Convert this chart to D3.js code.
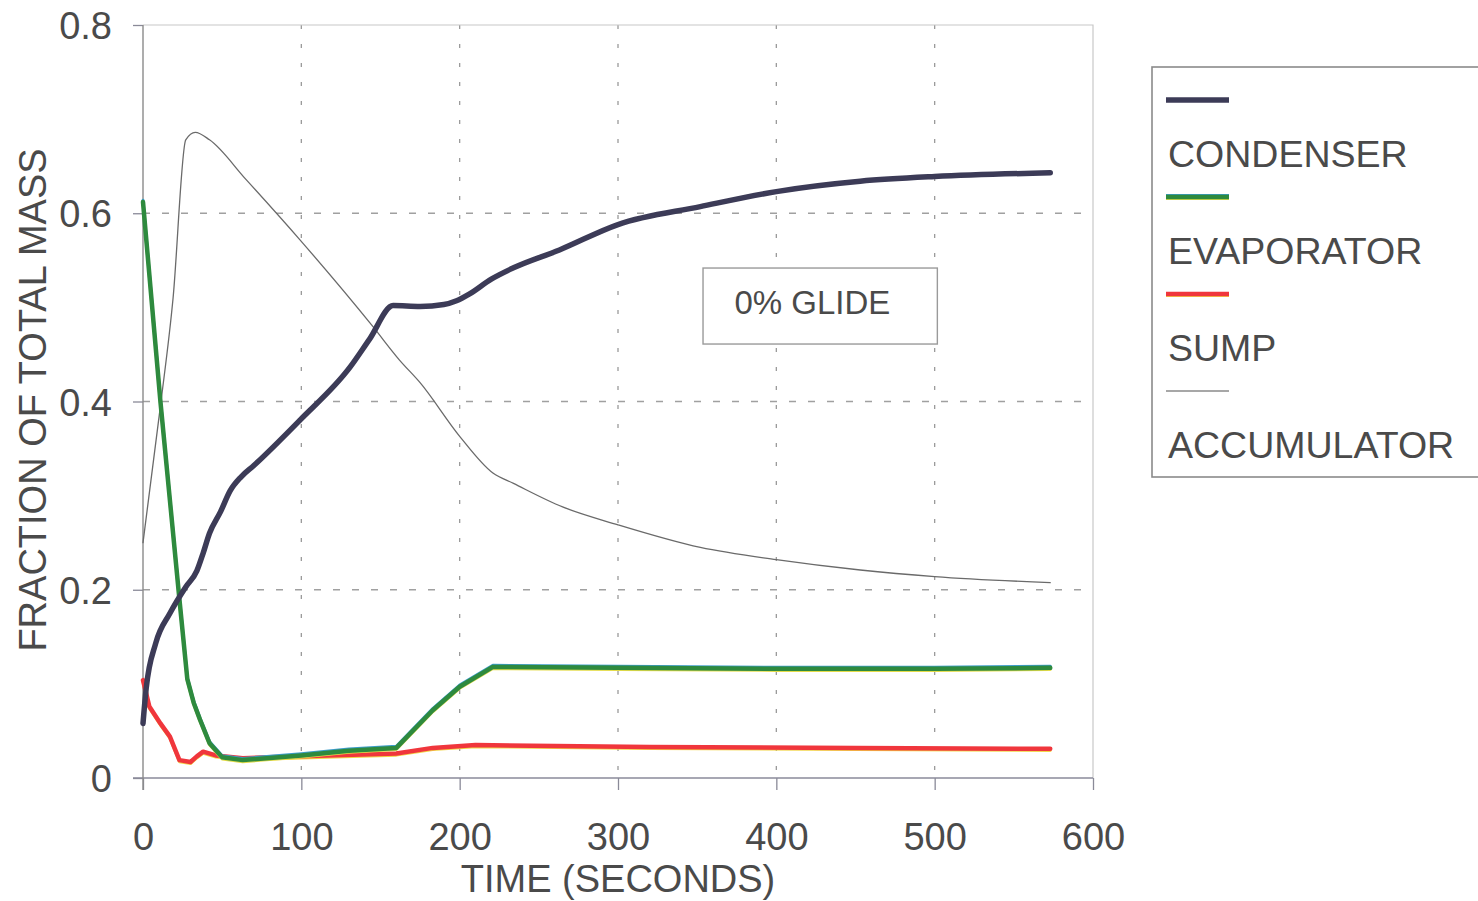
<!DOCTYPE html>
<html>
<head>
<meta charset="utf-8">
<script src="https://cdn.jsdelivr.net/npm/d3@7"></script>
<style>
  body { margin: 0; background: #fff; }
  text { font-family: "Liberation Sans", Arial, sans-serif; fill: #4a4a4a; }
</style>
</head>
<body>
<svg id="chart" width="1478" height="901"></svg>
<script>
// series: [time (s), fraction of total mass]
var condenser = [[0,0.058],[2,0.095],[8,0.143],[17,0.175],[27,0.203],[34,0.220],[38,0.239],
  [42,0.260],[49,0.283],[55,0.305],[62,0.320],[70,0.332],[99,0.380],[131,0.437],[143,0.466],
  [158,0.502],[175,0.501],[190,0.503],[198,0.507],[206,0.514],[220,0.530],[234,0.542],
  [263,0.561],[300,0.588],[352,0.607],[400,0.623],[453,0.634],[500,0.639],[573,0.643]];

var evaporator = [[0,0.612],[11,0.400],[23,0.190],[28,0.105],[32,0.080],[36,0.062],[42,0.037],
  [50,0.022],[63,0.019],[100,0.024],[130,0.029],[160,0.032],[183,0.072],[200,0.097],
  [221,0.118],[300,0.117],[400,0.116],[500,0.116],[573,0.117]];

var sump = [[0,0.104],[4,0.076],[11,0.058],[17,0.044],[23,0.019],[30,0.017],[34,0.023],
  [38,0.028],[46,0.024],[63,0.021],[100,0.023],[160,0.026],[183,0.032],[210,0.035],
  [320,0.033],[450,0.032],[573,0.031]];

var accumulator = [[0,0.250],[11,0.395],[19,0.510],[27,0.678],[33,0.686],[42,0.678],
  [65,0.636],[99,0.572],[145,0.480],[162,0.444],[175,0.420],[200,0.363],[221,0.324],
  [234,0.313],[265,0.288],[300,0.269],[352,0.245],[400,0.232],[453,0.221],[500,0.214],[573,0.2075]];

var xTicks = [0, 100, 200, 300, 400, 500, 600];
var yTicks = [0, 0.2, 0.4, 0.6, 0.8];
var legendNames = ["CONDENSER", "EVAPORATOR", "SUMP", "ACCUMULATOR"];

var margin = {top: 25, left: 143},
    width = 950,
    height = 753;

var svg = d3.select("#chart");
var g = svg.append("g")
           .attr("transform", "translate(" + margin.left + "," + margin.top + ")");

var xscale = d3.scaleLinear().domain([0, 600]).range([0, width]);
var yscale = d3.scaleLinear().domain([0, 0.8]).range([height, 0]);

// grid
g.selectAll("line.vgrid").data(xTicks.slice(1, -1)).enter().append("line")
  .attr("x1", xscale).attr("x2", xscale).attr("y1", 0).attr("y2", height)
  .attr("stroke", "#9a9a9a").attr("stroke-width", 1.3).attr("stroke-dasharray", "4,15");
g.selectAll("line.hgrid").data(yTicks.slice(1, -1)).enter().append("line")
  .attr("x1", 0).attr("x2", width).attr("y1", yscale).attr("y2", yscale)
  .attr("stroke", "#a0a0a0").attr("stroke-width", 1.3).attr("stroke-dasharray", "7,12");

// frame top + right
g.append("path")
  .attr("d", "M0,0H" + width + "V" + height)
  .attr("fill", "none").attr("stroke", "#c8c8c8").attr("stroke-width", 1.2);

// axes
var xaxis = d3.axisBottom(xscale).tickValues(xTicks).tickSize(12).tickSizeOuter(0)
              .tickFormat(d3.format("d"));
var yaxis = d3.axisLeft(yscale).tickValues(yTicks).tickSize(10).tickPadding(21).tickSizeOuter(0)
              .tickFormat(function(d) { return d === 0 ? "0" : d3.format(".1f")(d); });

var gx = g.append("g").attr("transform", "translate(0," + height + ")").call(xaxis);
gx.select(".domain").remove();
gx.selectAll("line").attr("stroke", "#8a8a98").attr("stroke-width", 1.3);
gx.selectAll("text").attr("y", 72).attr("dy", 0).style("font-size", "38px")
  .style("font-family", "Liberation Sans, Arial, sans-serif").attr("fill", "#4a4a4a");

var gy = g.append("g").call(yaxis);
gy.select(".domain").remove();
gy.selectAll("line").attr("stroke", "#8a8a98").attr("stroke-width", 1.3);
gy.selectAll("text").attr("dy", "0.36em").style("font-size", "38px")
  .style("font-family", "Liberation Sans, Arial, sans-serif").attr("fill", "#4a4a4a");

g.append("line").attr("x1", -10).attr("x2", width).attr("y1", height).attr("y2", height)
  .attr("stroke", "#8a8a9a").attr("stroke-width", 1.6);
g.append("line").attr("x1", 0).attr("x2", 0).attr("y1", 0).attr("y2", height + 12)
  .attr("stroke", "#8a8a8a").attr("stroke-width", 1.4);

// axis titles
svg.append("text")
   .attr("x", margin.left + xscale(300)).attr("y", 892)
   .attr("text-anchor", "middle").style("font-size", "38px")
   .text("TIME (SECONDS)");
svg.append("text")
   .attr("text-anchor", "middle").style("font-size", "38px")
   .attr("transform", "translate(46,400)rotate(-90)")
   .text("FRACTION OF TOTAL MASS");

// lines
function makeLine(curve) {
  return d3.line().x(function(d) { return xscale(d[0]); })
                  .y(function(d) { return yscale(d[1]); })
                  .curve(curve);
}
var smooth = makeLine(d3.curveMonotoneX);
var sharp  = makeLine(d3.curveLinear);

function drawSeries(data, gen, color, w, fringes) {
  (fringes || []).forEach(function(f) {
    g.append("path").datum(data).attr("d", gen)
     .attr("transform", "translate(0," + f.dy + ")")
     .attr("fill", "none").attr("stroke", f.color).attr("stroke-width", f.w)
     .attr("stroke-linejoin", "round").attr("stroke-linecap", "round");
  });
  g.append("path").datum(data).attr("d", gen)
   .attr("fill", "none").attr("stroke", color).attr("stroke-width", w)
   .attr("stroke-linejoin", "round").attr("stroke-linecap", "round");
}

drawSeries(accumulator, smooth, "#6a6a6a", 1.3);
drawSeries(sump, sharp, "#f0363c", 4.5, [{dy: 1.6, color: "#f2d548", w: 3}]);
drawSeries(evaporator, sharp, "#2e8a3e", 4.5, [{dy: -1.6, color: "#3c9cc8", w: 3}, {dy: 1.6, color: "#e4dc4a", w: 3}]);
drawSeries(condenser, smooth, "#3c3b57", 5.5);

// glide label
g.append("rect")
 .attr("x", xscale(353.7)).attr("y", yscale(0.5418))
 .attr("width", xscale(148)).attr("height", 76)
 .attr("fill", "#fff").attr("stroke", "#9a9a9a").attr("stroke-width", 1.4);
g.append("text")
 .attr("x", xscale(422.8)).attr("y", yscale(0.493))
 .attr("text-anchor", "middle").style("font-size", "33px")
 .text("0% GLIDE");

// legend
var legend = svg.append("g");
legend.append("rect").attr("x", 1152).attr("y", 67).attr("width", 360).attr("height", 410)
      .attr("fill", "#fff").attr("stroke", "#8a8a8a").attr("stroke-width", 1.6);

var legendStyles = [
  {color: "#3c3b57", w: 5.5},
  {color: "#2e8a3e", w: 4.5, fringes: [{dy: -1.6, color: "#3c9cc8", w: 3}, {dy: 1.6, color: "#e4dc4a", w: 3}]},
  {color: "#f0363c", w: 4.5, fringes: [{dy: 1.6, color: "#f2d548", w: 3}]},
  {color: "#8a8a8a", w: 1.3}
];

legendNames.forEach(function(name, i) {
  var y = 100 + i * 97;
  var st = legendStyles[i];
  (st.fringes || []).forEach(function(f) {
    legend.append("line").attr("x1", 1166).attr("x2", 1229)
          .attr("y1", y + f.dy).attr("y2", y + f.dy)
          .attr("stroke", f.color).attr("stroke-width", f.w);
  });
  legend.append("line").attr("x1", 1166).attr("x2", 1229).attr("y1", y).attr("y2", y)
        .attr("stroke", st.color).attr("stroke-width", st.w);
  legend.append("text").attr("x", 1168).attr("y", y + 67)
        .style("font-size", "37.5px").text(name);
});
</script>
</body>
</html>
